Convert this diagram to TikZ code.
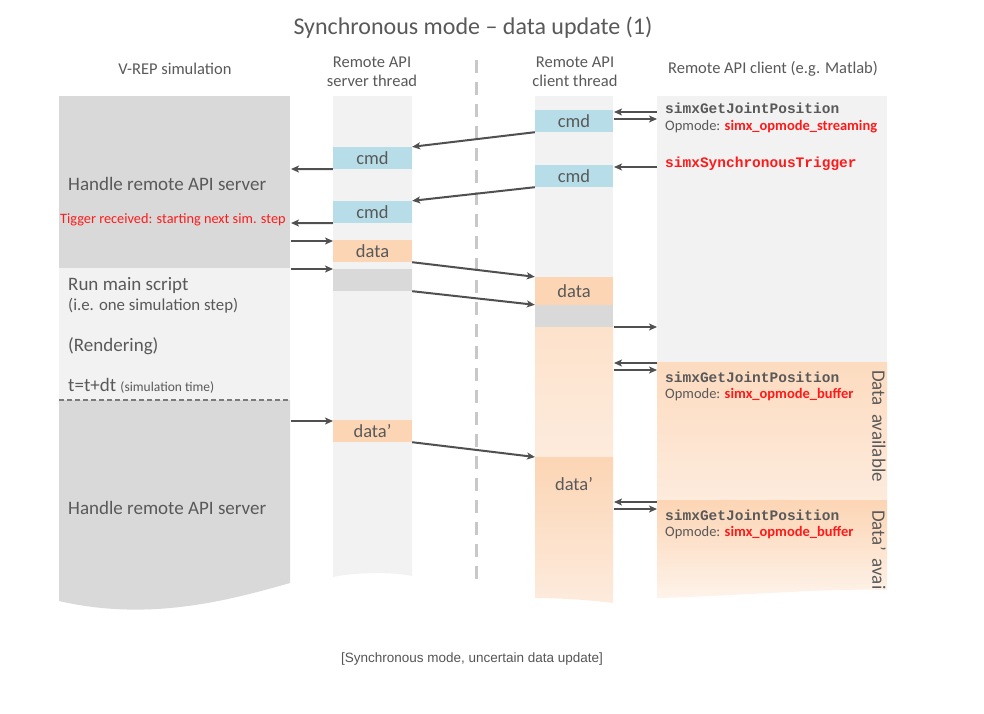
\documentclass[tikz,border=0pt]{standalone}
\usepackage{fontspec}
\setmainfont{Carlito}
\newfontfamily\codefont{Liberation Mono}
\newfontfamily\capfont{Liberation Sans}
\usetikzlibrary{arrows.meta}
\definecolor{txt}{HTML}{595959}
\definecolor{lgray}{HTML}{F2F2F2}
\definecolor{dgray}{HTML}{D9D9D9}
\definecolor{cmdblue}{HTML}{B7DEE8}
\definecolor{dataor}{HTML}{FCD5B4}
\definecolor{paleor}{HTML}{FDE2CB}
\definecolor{palestor}{HTML}{FDEBDD}
\definecolor{arr}{HTML}{505050}
\definecolor{redt}{HTML}{FF1A1A}
\definecolor{vdash}{HTML}{C8C8C8}
\definecolor{captxt}{HTML}{555555}
\begin{document}
\begin{tikzpicture}[x=1pt,y=-1pt,
  box/.style={minimum width=79pt, minimum height=22pt, inner sep=0pt, text=txt, font=\fontsize{18.5}{20}\selectfont},
  cmdbox/.style={box, fill=cmdblue},
  databox/.style={box, fill=dataor},
  graybox/.style={box, fill=dgray},
  conn/.style={draw=arr, line width=2pt, -{Stealth[length=8pt,width=7pt,inset=2pt]}},
  header/.style={text=txt, align=center, font=\fontsize{16.5}{19}\selectfont, inner sep=0pt},
  lefttext/.style={text=txt, anchor=west, inner sep=0pt, font=\fontsize{19}{20}\selectfont},
  codetext/.style={anchor=west, inner sep=0pt, font=\codefont\bfseries\fontsize{14.5}{16}\selectfont},
  opmode/.style={anchor=west, inner sep=0pt, text=txt, font=\fontsize{14.5}{16}\selectfont},
  vertext/.style={rotate=-90, anchor=west, inner sep=0pt, text=txt, font=\fontsize{19}{20}\selectfont}
]
\useasboundingbox[fill=white] (0,0) rectangle (984,713);

% title and headers
\node[text=txt, font=\fontsize{24}{26}\selectfont, inner sep=0pt] (title) at (473,28) {Synchronous mode -- data update (1)};
\node[header] (h1) at (175,69) {V-REP simulation};
\node[header] (h2) at (372,72) {Remote API\\server thread};
\node[header] (h3) at (575,72) {Remote API\\client thread};
\node[header] (h4) at (773,69) {Remote API client (e.g. Matlab)};

% V-REP column
\fill[dgray] (59,96) rectangle (290,268);
\fill[lgray] (59,268) rectangle (290,400);
\fill[dgray] (59,400) -- (290,400) -- (290,583) .. controls (230,600) and (150,622) .. (59,601) -- cycle;
\draw[color=txt!80, line width=1.5pt, dash pattern=on 5pt off 3pt] (59,400) -- (290,400);
\node[lefttext] (t1) at (68,184) {Handle remote API server};
\node[anchor=west, inner sep=0pt, text=redt, font=\fontsize{14.3}{16}\selectfont] (t2) at (60,220) {Tigger received: starting next sim. step};
\node[lefttext] (t3) at (68,285) {Run main script};
\node[lefttext, font=\fontsize{16.8}{18}\selectfont] (t4) at (68,306) {(i.e. one simulation step)};
\node[lefttext] (t5) at (68,346) {(Rendering)};
\node[lefttext] (t6) at (68,386) {t=t+dt {\fontsize{13.5}{15}\selectfont(simulation time)}};
\node[lefttext] (t7) at (68,508) {Handle remote API server};

% server thread column
\fill[lgray] (333,96) -- (412,96) -- (412,576) .. controls (395,572) and (355,572) .. (333,577) -- cycle;
\node[cmdbox] (s1) at (372.5,158) {cmd};
\node[cmdbox] (s2) at (372.5,212) {cmd};
\node[databox] (sd) at (372.5,251) {data};
\node[graybox] (sg) at (372.5,280) {};
\node[databox] (sd2) at (372.5,431) {data’};

% dashed separator
\draw[color=vdash, line width=3pt, dash pattern=on 13pt off 9pt] (476,60) -- (476,580);

% client thread column
\fill[lgray] (535,96) rectangle (613,327);
\shade[top color=paleor, bottom color=palestor] (535,327) rectangle (613,457);
\shade[top color=dataor, bottom color=palestor] (535,457) -- (613,457) -- (613,603) .. controls (590,600) and (560,598) .. (535,598) -- cycle;
\node[cmdbox, minimum width=78pt] (c1) at (574,121) {cmd};
\node[cmdbox, minimum width=78pt] (c2) at (574,176) {cmd};
\node[databox, minimum width=78pt, minimum height=28pt] (cd) at (574,291) {data};
\node[graybox, minimum width=78pt] (cg) at (574,316) {};
\node[text=txt, font=\fontsize{18.5}{20}\selectfont, inner sep=0pt] (cd2) at (574,484) {data’};
\coordinate (cD2) at (535,457);

% Matlab column
\fill[lgray] (657,96) rectangle (887,362);
\shade[top color=dataor!85!white, bottom color=palestor] (657,362) rectangle (887,500);
\shade[top color=dataor, bottom color=palestor!60!white] (657,500) -- (887,500) -- (887,590) .. controls (820,588) and (740,596) .. (657,598) -- cycle;
\begin{scope}
  \clip (657,500) -- (887,500) -- (887,590) .. controls (820,588) and (740,596) .. (657,598) -- cycle;
  \node[vertext] (v2) at (879,510) {Data’\hspace{8pt}available};
\end{scope}
\node[vertext] (v1) at (879,370) {Data\hspace{8pt}available};

\node[codetext, text=txt] (m1) at (665,108) {simxGetJointPosition};
\node[opmode] (m2) at (665,127) {Opmode: \textcolor{redt}{\bfseries simx\_opmode\_streaming}};
\node[codetext, text=redt] (m3) at (665,164) {simxSynchronousTrigger};
\node[codetext, text=txt] (m4) at (665,377) {simxGetJointPosition};
\node[opmode] (m5) at (665,395) {Opmode: \textcolor{redt}{\bfseries simx\_opmode\_buffer}};
\node[codetext, text=txt] (m6) at (665,515) {simxGetJointPosition};
\node[opmode] (m7) at (665,533) {Opmode: \textcolor{redt}{\bfseries simx\_opmode\_buffer}};

% connector end points
\coordinate (vR1) at (291,169);
\coordinate (vR2) at (291,223);
\coordinate (vR3) at (291,241);
\coordinate (vR4) at (291,269);
\coordinate (vR5) at (291,421);
\coordinate (sL3) at (333,241);
\coordinate (sL4) at (333,269);
\coordinate (sL5) at (333,421);
\coordinate (mA1) at (657,112);
\coordinate (cA1) at (614,112);
\coordinate (cB1) at (614,119);
\coordinate (mB1) at (657,119);
\coordinate (mA2) at (657,167);
\coordinate (cA2) at (614,167);
\coordinate (cB3) at (614,327);
\coordinate (mB3) at (657,327);
\coordinate (mA4) at (657,363);
\coordinate (cA4) at (614,363);
\coordinate (cB4) at (614,370);
\coordinate (mB4) at (657,370);
\coordinate (mA5) at (657,502);
\coordinate (cA5) at (614,502);
\coordinate (cB5) at (614,509);
\coordinate (mB5) at (657,509);

% connectors
\draw[conn] (mA1) -- (cA1);
\draw[conn] (cB1) -- (mB1);
\draw[conn] (mA2) -- (cA2);
\draw[conn] (c1.south west) -- (s1.north east);
\draw[conn] (c2.south west) -- (s2.north east);
\draw[conn] (s1.south west) -- (vR1);
\draw[conn] (s2.south west) -- (vR2);
\draw[conn] (vR3) -- (sL3);
\draw[conn] (vR4) -- (sL4);
\draw[conn] (sd.south east) -- (cd.north west);
\draw[conn] (sg.south east) -- (cg.north west);
\draw[conn] (cB3) -- (mB3);
\draw[conn] (mA4) -- (cA4);
\draw[conn] (cB4) -- (mB4);
\draw[conn] (vR5) -- (sL5);
\draw[conn] (sd2.south east) -- (cD2);
\draw[conn] (mA5) -- (cA5);
\draw[conn] (cB5) -- (mB5);

% caption
\node[text=captxt, font=\capfont\fontsize{13.5}{15}\selectfont, inner sep=0pt] (cap) at (472,659) {[Synchronous mode, uncertain data update]};
\end{tikzpicture}
\end{document}
